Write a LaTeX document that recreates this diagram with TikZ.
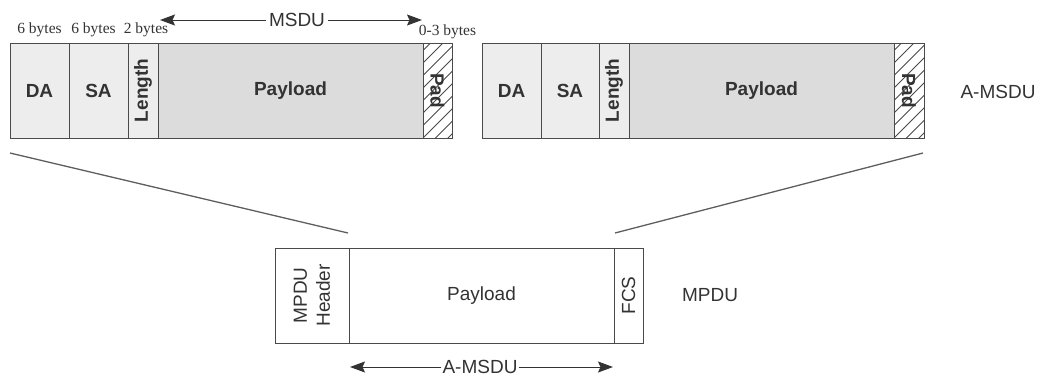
\documentclass[tikz,border=0pt]{standalone}
\usepackage{fontspec}
\setmainfont{Liberation Serif}
\setsansfont{Liberation Sans}
\usetikzlibrary{arrows.meta}
\definecolor{edge}{HTML}{4A4A4A}
\definecolor{txt}{HTML}{333333}
\definecolor{hdrfill}{HTML}{EDEDED}
\definecolor{payfill}{HTML}{DCDCDC}
\definecolor{linegray}{HTML}{5E5E5E}
\begin{document}
\begin{tikzpicture}[x=1pt,y=-1pt,
  field/.style={draw=edge, line width=1pt, inner sep=0pt, minimum height=95pt,
    text=txt, font=\sffamily\bfseries\fontsize{19}{22}\selectfont},
  hdr/.style={field, fill=hdrfill},
  pay/.style={field, fill=payfill},
  padbox/.style={field, fill=white, path picture={
      \foreach \k in {-4,...,9}{
        \draw[edge, line width=0.8pt] ([yshift=\k*12.5pt]path picture bounding box.south west) -- ++(45:60pt);
      }}},
  boldtext/.style={inner sep=0pt, text=txt, font=\sffamily\bfseries\fontsize{19}{22}\selectfont},
  wfield/.style={draw=edge, line width=1pt, inner sep=0pt, minimum height=95pt, fill=white,
    text=txt, font=\sffamily\fontsize{19}{23}\selectfont},
  plain/.style={inner sep=0pt, text=txt, font=\sffamily\fontsize{19}{23}\selectfont},
  lab/.style={text=txt, font=\sffamily\fontsize{19}{22}\selectfont},
  bytes/.style={inner sep=0pt, text=txt, font=\rmfamily\fontsize{15.5}{18}\selectfont},
  arr/.style={draw=txt, line width=1pt, -{Stealth[length=15pt,width=11pt,inset=2.5pt]}},
  fan/.style={draw=linegray, line width=1.3pt}
]
\useasboundingbox (0,0) rectangle (1045,376);

% left A-MSDU subframe
\node[hdr, minimum width=59pt] (da1) at (39.5,90.5) {DA};
\node[hdr, minimum width=59pt] (sa1) at (98.5,90.5) {SA};
\node[hdr, rotate=90, minimum width=95pt, minimum height=30pt] (len1) at (143,90.5) {Length};
\node[pay, minimum width=265pt] (pl1) at (290.5,90.5) {Payload};
\node[padbox, minimum width=29pt] (pad1) at (437.5,90.5) {};
\node[boldtext, rotate=-90] (padt1) at (pad1) {Pad};

% right A-MSDU subframe
\node[hdr, minimum width=59pt] (da2) at (511.5,90.5) {DA};
\node[hdr, minimum width=58pt] (sa2) at (570,90.5) {SA};
\node[hdr, rotate=90, minimum width=95pt, minimum height=30pt] (len2) at (614,90.5) {Length};
\node[pay, minimum width=265pt] (pl2) at (761.5,90.5) {Payload};
\node[padbox, minimum width=30pt] (pad2) at (909,90.5) {};
\node[boldtext, rotate=-90] (padt2) at (pad2) {Pad};

\node[lab] (amsdu) at (998,92) {A-MSDU};

% byte labels
\node[bytes] (b1) at (39.5,30) {6 bytes};
\node[bytes] (b2) at (93.5,30) {6 bytes};
\node[bytes] (b3) at (146,30) {2 bytes};
\node[bytes] (b4) at (447.5,32) {0-3 bytes};

% MSDU arrow
\node[lab, fill=white, inner sep=3pt] (msdu) at (297,20) {MSDU};
\coordinate (m1) at (160,20);
\coordinate (m2) at (422,20);
\draw[arr] (msdu) -- (m1);
\draw[arr] (msdu) -- (m2);

% MPDU
\node[wfield, minimum width=74pt] (mh) at (312,295.5) {};
\node[plain, rotate=90, align=center] (mht) at (mh) {MPDU\\Header};
\node[wfield, minimum width=265pt] (mp) at (481.5,295.5) {Payload};
\node[wfield, rotate=90, minimum width=95pt, minimum height=29pt] (fcs) at (628.5,295.5) {FCS};
\node[lab] (mpdu) at (710,295) {MPDU};

% A-MSDU arrow
\node[lab, fill=white, inner sep=1pt] (amsdub) at (480,367) {A-MSDU};
\coordinate (a1) at (350,367);
\coordinate (a2) at (613,367);
\draw[arr] (amsdub) -- (a1);
\draw[arr] (amsdub) -- (a2);

% fan lines
\coordinate (f1a) at (10,153);
\coordinate (f1b) at (348,233);
\coordinate (f2a) at (923,153);
\coordinate (f2b) at (615,233);
\draw[fan] (f1a) -- (f1b);
\draw[fan] (f2a) -- (f2b);
\end{tikzpicture}
\end{document}
